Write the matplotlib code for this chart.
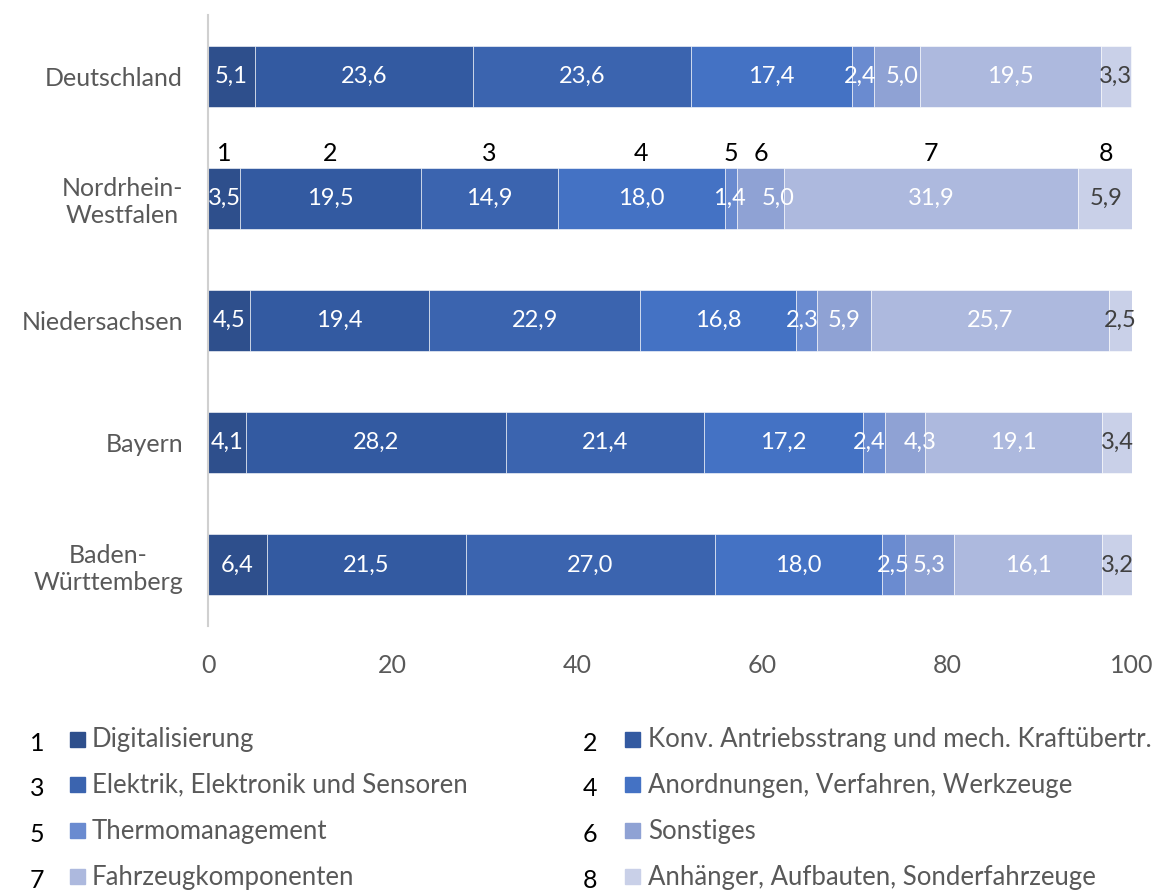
import matplotlib.pyplot as plt
from matplotlib.patches import Rectangle

plt.rcParams['font.family'] = ['Lato', 'DejaVu Sans']

# data
regions = ["Deutschland", "Nordrhein-\nWestfalen", "Niedersachsen", "Bayern", "Baden-\nWürttemberg"]
categories = ["Digitalisierung", "Konv. Antriebsstrang und mech. Kraftübertr.",
              "Elektrik, Elektronik und Sensoren", "Anordnungen, Verfahren, Werkzeuge",
              "Thermomanagement", "Sonstiges", "Fahrzeugkomponenten",
              "Anhänger, Aufbauten, Sonderfahrzeuge"]
values = [
    [5.1, 23.6, 23.6, 17.4, 2.4, 5.0, 19.5, 3.3],
    [3.5, 19.5, 14.9, 18.0, 1.4, 5.0, 31.9, 5.9],
    [4.5, 19.4, 22.9, 16.8, 2.3, 5.9, 25.7, 2.5],
    [4.1, 28.2, 21.4, 17.2, 2.4, 4.3, 19.1, 3.4],
    [6.4, 21.5, 27.0, 18.0, 2.5, 5.3, 16.1, 3.2],
]
colors = ["#2E4F8C", "#335AA1", "#3B64AF", "#4472C4", "#6A8BD0", "#8FA2D4", "#ADB9DE", "#C9D0E8"]
label_colors = ["white"] * 7 + ["#404040"]
# labels nudged sideways in the original (row, segment): shift in % units
nudges = {(0, 4): -0.3, (0, 5): 0.5, (1, 4): -0.2, (1, 5): 1.9,
          (2, 4): -0.4, (3, 4): -0.5, (3, 5): 1.6}

fig = plt.figure(figsize=(11.55, 8.91), dpi=100)
ax = fig.add_axes([0.1801, 0.2974, 0.8, 0.6858])

for i, region in enumerate(regions):
    left = 0
    for j, v in enumerate(values[i]):
        ax.barh(i, v, left=left, height=0.5, color=colors[j], edgecolor="white", linewidth=0.4)
        ax.text(left + v / 2 + nudges.get((i, j), 0), i, f"{v:.1f}".replace(".", ","),
                ha="center", va="center", fontsize=17, color=label_colors[j])
        if i == 1:
            ax.text(left + v / 2, i - 0.37, str(j + 1), ha="center", va="center",
                    fontsize=18, color="black")
        left += v

ax.set_xlim(0, 100)
ax.set_ylim(4.5, -0.5)
ax.set_xticks([0, 20, 40, 60, 80, 100])
ax.set_yticks(range(len(regions)))
ax.set_yticklabels(regions, multialignment="center")
ax.tick_params(axis="both", length=0, labelsize=18, labelcolor="#595959")
ax.tick_params(axis="x", pad=20)
ax.tick_params(axis="y", pad=18)
for s in ["top", "right", "bottom"]:
    ax.spines[s].set_visible(False)
ax.spines["left"].set_color("#D0D0D0")
ax.spines["left"].set_linewidth(1.5)

# legend, drawn by hand with numbers
rows = [740, 785, 831, 877]
cols = [(37, 70, 92), (590, 625, 648)]
for k, name in enumerate(categories):
    r = rows[k // 2]
    nx, mx, tx = cols[k % 2]
    y = 1 - r / 891
    fig.text(nx / 1155, y - 0.004, str(k + 1), ha="center", va="center", fontsize=18, color="black")
    fig.patches.append(Rectangle((mx / 1155, y - 7 / 891), 15 / 1155, 15 / 891,
                                 transform=fig.transFigure, color=colors[k]))
    fig.text(tx / 1155, y, name, ha="left", va="center", fontsize=18.5, color="#595959")

fig.savefig("out.png")
